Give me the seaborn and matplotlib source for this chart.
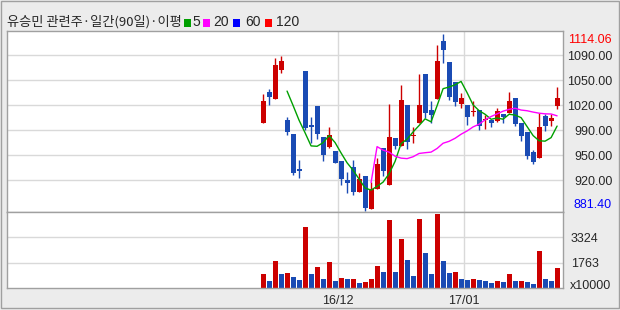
import numpy as np
import pandas as pd
import matplotlib
matplotlib.use("Agg")
import matplotlib.pyplot as plt
from matplotlib.patches import Rectangle
import seaborn as sns

# ---------------- data ----------------
# slot of the 90-day window for each trading day that has data
slots = list(range(40, 90))
open_ = [997.3, 1038.1, 1028.5, 1067.1, 1000.8, 982.4, 936.7, 1065.3, 994.2, 1019.3,
         978.4, 965.7, 960.0, 946.8, 921.8, 938.9, 906.0, 927.1, 884.0, 910.4,
         964.0, 915.6, 977.1, 966.6, 1020.6, 980.2, 997.3, 1061.4, 1014.0, 1028.5,
         1104.8, 1077.2, 1051.3, 1022.3, 1020.6, 1011.8, 1014.0, 1000.4, 1001.2, 999.9,
         1008.7, 1010.4, 1029.8, 996.9, 985.0, 958.7, 951.2, 1006.1, 999.9, 1019.7]
close = [1025.8, 1031.5, 1073.2, 1078.5, 985.4, 931.4, 934.1, 990.7, 992.0, 982.8,
         955.1, 981.1, 944.6, 923.5, 918.3, 906.0, 923.1, 885.4, 910.0, 942.9,
         933.7, 978.4, 966.6, 1027.2, 972.3, 981.1, 1020.6, 1010.4, 1007.8, 1078.5,
         1093.0, 1031.5, 1024.9, 1030.2, 1004.4, 1012.7, 993.3, 1001.2, 997.3, 1012.7,
         1004.8, 1025.8, 996.0, 980.2, 953.8, 945.9, 991.6, 993.3, 1003.5, 1029.8]
high = [1035.1, 1041.6, 1082.1, 1085.1, 1004.4, 982.4, 948.2, 1065.3, 1004.4, 1019.3,
        978.4, 991.6, 960.0, 946.8, 932.8, 948.2, 930.6, 927.1, 919.2, 950.8,
        964.0, 1021.9, 977.1, 1046.9, 1020.6, 992.0, 1061.4, 1061.4, 1026.2, 1099.6,
        1114.06, 1077.2, 1051.3, 1036.8, 1020.6, 1025.8, 1014.0, 1007.0, 1001.2, 1016.6,
        1008.7, 1037.7, 1029.8, 996.9, 985.0, 961.3, 1009.7, 1008.7, 1009.1, 1044.3]
low = [997.3, 1020.6, 1028.5, 1063.1, 981.5, 928.4, 924.9, 987.7, 970.9, 976.2,
       947.2, 964.4, 943.8, 915.2, 905.1, 902.1, 906.0, 881.4, 884.0, 910.4,
       927.1, 915.6, 962.6, 966.6, 962.6, 970.2, 997.3, 1003.1, 997.3, 1028.5,
       1076.3, 1027.2, 1019.3, 1016.2, 994.2, 1006.1, 987.7, 989.4, 992.0, 998.2,
       997.3, 1010.4, 993.3, 973.6, 949.9, 943.3, 951.2, 986.7, 993.3, 1015.7]
# volume, unit x10000
volume = [1032, 595, 1844, 1032, 1095, 845, 658, 3967, 1032, 1470,
          720, 1782, 595, 783, 720, 720, 470, 533, 720, 1532,
          1157, 4404, 1157, 3218, 1907, 908, 4467, 2344, 1032, 4779,
          1844, 1095, 1157, 720, 658, 720, 658, 595, 470, 595,
          570, 1032, 595, 595, 533, 408, 2469, 720, 595, 1407]

price_grid = [921.4, 954.3, 987.3, 1020.2, 1053.1, 1086.4]
price_grid_labels = ["920.00", "950.00", "990.00", "1020.00", "1050.00", "1090.00"]
vol_grid = [1763, 3324]
vol_grid_labels = ["1763", "3324"]
month_bounds = [52.5, 73.5]
month_labels = ["16/12", "17/01"]
title = "유승민 관련주·일간(90일)·이평"
ma_periods = ["5", "20", "60", "120"]

# ---------------- style ----------------
RED = "#CC0000"
BLUE = "#1A4BB4"
BG = "#ECECEC"
GRID = "#D9D9D9"
FRAME = "#A0A0A0"
NUMFONT = ["Liberation Sans", "DejaVu Sans"]
FS = 9
W, H = 620, 310

sns.set_style("white")
plt.rcParams["font.family"] = NUMFONT

df = pd.DataFrame({"slot": slots, "open": open_, "close": close,
                   "high": high, "low": low, "volume": volume})
df["up"] = df["close"] >= df["open"]
df["ccol"] = np.where(df["up"], RED, BLUE)
vup = df["volume"] >= df["volume"].shift(1).fillna(0)
df["vdir"] = np.where(vup, "up", "down")


def fx(px):
    return px / W


def fy(py):
    return 1 - py / H


fig = plt.figure(figsize=(W / 100, H / 100), dpi=100, facecolor=BG)
ax = fig.add_axes([fx(7), fy(212.3), fx(555.5), 181.3 / H])
axv = fig.add_axes([fx(7), fy(287.7), fx(555.5), 75.4 / H])

for a in (ax, axv):
    a.set_facecolor("white")
    for s in a.spines.values():
        s.set_color(FRAME)
        s.set_linewidth(1)
    a.set_axisbelow(True)

# ---- price panel ----
ax.vlines(df["slot"], df["low"], df["high"], colors=df["ccol"], linewidth=1, zorder=2)
body_h = np.maximum((df["close"] - df["open"]).abs(), 1.5)
body_b = np.minimum(df["close"], df["open"])
ax.bar(df["slot"], body_h, bottom=body_b, width=0.82, color=df["ccol"], linewidth=0, zorder=3)

ma5 = df["close"].rolling(5).mean()
ma20 = df["close"].rolling(20, min_periods=19).sum() / 20
m5 = ma5.notna()
m20 = ma20.notna()
sns.lineplot(x=df["slot"][m5], y=ma5[m5], color="#00A000", linewidth=1, ax=ax, zorder=4)
sns.lineplot(x=df["slot"][m20], y=ma20[m20], color="#FF00FF", linewidth=1, ax=ax, zorder=4)

ax.set_ylim(879.3, 1118.0)
ax.set_xlim(-2.67, 89.9)
ax.set_xticks(month_bounds)
ax.set_xticklabels([])
ax.yaxis.tick_right()
ax.set_yticks(price_grid)
ax.set_yticklabels(price_grid_labels)
ax.tick_params(axis="y", length=0, pad=36, labelsize=FS)
ax.tick_params(axis="x", length=0)
for t in ax.get_yticklabels():
    t.set_horizontalalignment("right")
ax.grid(True, color=GRID, linewidth=1)
ax.set_xlabel("")
ax.set_ylabel("")

# max / min price labels
tr = ax.get_yaxis_transform()
ax.text(1.0 + 49.5 / 555.5, max(high), f"{max(high):.2f}", transform=tr, ha="right",
        va="top", color="#FF0000", fontsize=FS, clip_on=False)
ax.text(1.0 + 49.5 / 555.5, min(low), f"{min(low):.2f}", transform=tr, ha="right",
        va="bottom", color="#0000FF", fontsize=FS, clip_on=False)

# ---- volume panel ----
sns.barplot(data=df, x="slot", y="volume", hue="vdir", palette={"up": RED, "down": BLUE},
            native_scale=True, dodge=False, width=0.83, legend=False, errorbar=None,
            saturation=1, linewidth=0, ax=axv)
axv.set_xlim(-2.67, 89.9)
axv.set_ylim(202, 4885)
axv.yaxis.tick_right()
axv.set_yticks(vol_grid)
axv.set_yticklabels(vol_grid_labels)
axv.tick_params(axis="y", length=0, pad=6, labelsize=FS)
axv.set_xticks(month_bounds)
axv.set_xticklabels(month_labels)
axv.tick_params(axis="x", length=0, pad=5, labelsize=FS)
axv.grid(True, color=GRID, linewidth=1)
axv.set_xlabel("")
axv.set_ylabel("")
fig.text(fx(611), fy(286), "x10000", ha="right", va="center", fontsize=FS)

# ---- title and MA legend ----
t = fig.text(fx(7), fy(22), title, ha="left", va="center", fontsize=9,
             family=["Noto Sans CJK KR", "DejaVu Sans"])
fig.canvas.draw()
bb = t.get_window_extent()
t.set_fontsize(9 * 175.0 / bb.width)
fig.canvas.draw()
end = t.get_window_extent().x1
leg_cols = ["#00A000", "#FF00FF", "#0000FF", "#FF0000"]
offs = [(2, 11), (21, 31), (51, 63), (83, 94)]  # square start, label start relative to title end
for (sq, lb), col, lab in zip(offs, leg_cols, ma_periods):
    fig.patches.append(Rectangle((fx(end + sq), fy(26.5)), fx(7), 8 / H, transform=fig.transFigure,
                                 facecolor=col, edgecolor="none"))
    fig.text(fx(end + lb), fy(22), lab, ha="left", va="center", fontsize=10)

# outer frame
fig.patches.append(Rectangle((fx(0.5), fy(307.5)), fx(618), 307 / H, transform=fig.transFigure,
                             facecolor="none", edgecolor=FRAME, linewidth=1))

fig.savefig("out.png", dpi=100, facecolor=BG)
